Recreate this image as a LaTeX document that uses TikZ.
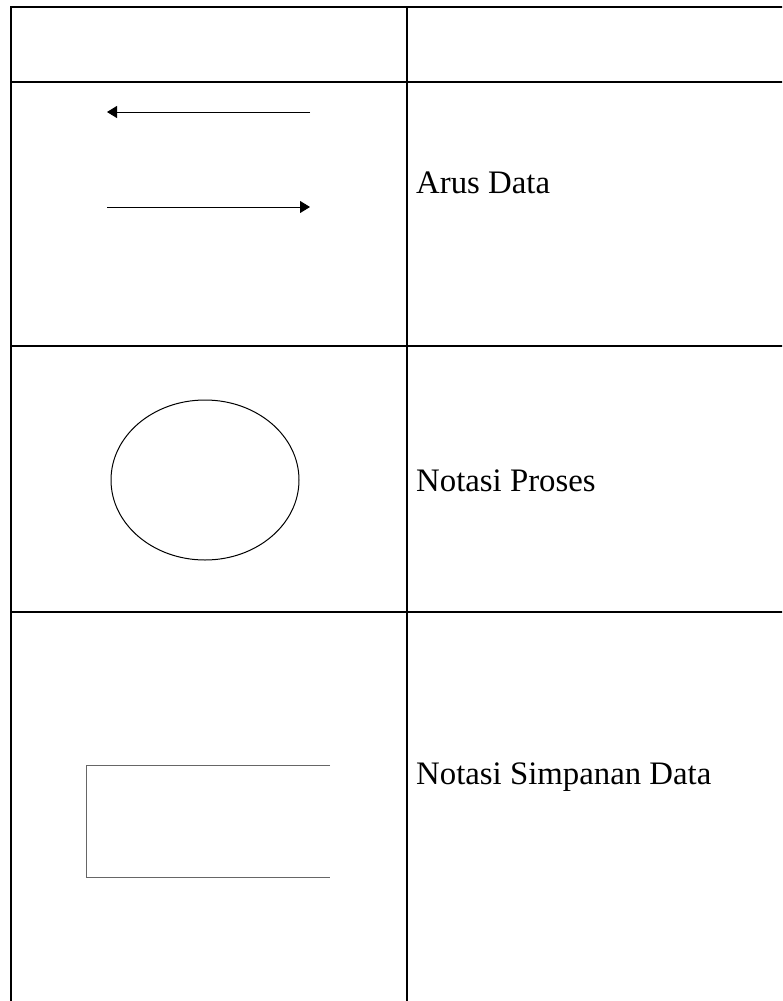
\documentclass[tikz,border=0pt]{standalone}
\usepackage{fontspec}
\setmainfont{Liberation Serif}
\usetikzlibrary{arrows.meta}
\begin{document}
\begin{tikzpicture}[x=1pt,y=-1pt,
  grid/.style={line width=1.8pt,line cap=rect},
  flow/.style={line width=1pt,-{Triangle[length=10pt,width=12pt]}},
  symb/.style={line width=1pt},
  store/.style={line width=1pt,draw=black!60},
  label/.style={anchor=base west,inner sep=0pt,font=\fontsize{32.8}{40}\selectfont}]
\useasboundingbox (0,0) rectangle (782,1001);
\begin{scope}
\clip (0,0) rectangle (782,1001);
% table grid
\draw[grid] (11,1010) -- (11,7) -- (800,7);
\draw[grid] (407,7) -- (407,1010);
\draw[grid] (11,82) -- (800,82);
\draw[grid] (11,346) -- (800,346);
\draw[grid] (11,612) -- (800,612);
\end{scope}
% arrows
\coordinate (a1s) at (310,112);
\coordinate (a1e) at (107,112);
\coordinate (a2s) at (107,207);
\coordinate (a2e) at (310,207);
\draw[flow] (a1s) -- (a1e);
\draw[flow] (a2s) -- (a2e);
% process
\draw[symb] (205,480) ellipse [x radius=94, y radius=80];
% data store
\draw[store] (330,765) -- (86,765) -- (86,877) -- (330,877);
% labels
\node[label] (t1) at (416,193) {Arus Data};
\node[label] (t2) at (416,491) {Notasi Proses};
\node[label] (t3) at (416,784) {Notasi Simpanan Data};
\end{tikzpicture}
\end{document}
